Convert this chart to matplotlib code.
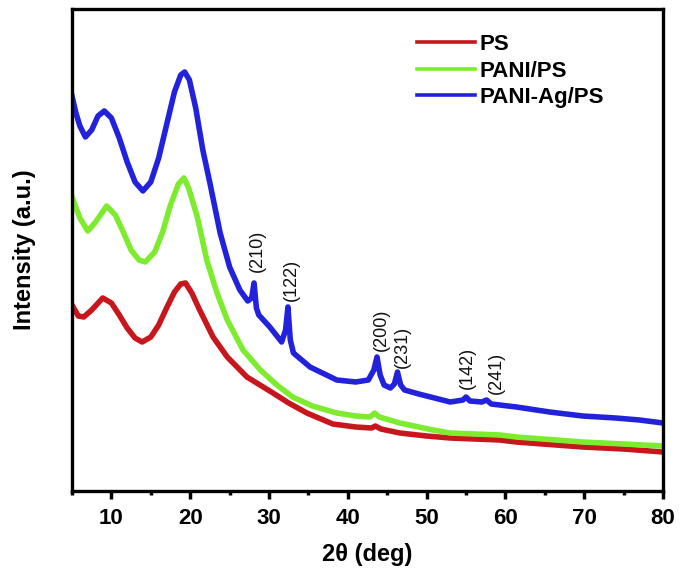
import numpy as np
import matplotlib
matplotlib.use("Agg")
from matplotlib import pyplot as plt
from matplotlib.ticker import MultipleLocator

plt.rcParams['font.family'] = ['Liberation Sans', 'DejaVu Sans']

# ---- data (2theta in deg, intensity in a.u.) ----
ps_2t = [5.0, 5.8, 6.5, 7.5, 8.9, 10.0, 11.0, 12.0, 13.0, 13.9, 15.0, 16.0, 17.0, 18.0,
         18.8, 19.4, 20.2, 21.2, 22.9, 24.7, 27.2, 30.5, 32.5, 34.8, 38.1, 41.0, 43.0,
         43.5, 44.2, 46.6, 50.0, 53.0, 59.3, 61.4, 69.8, 75.0, 80.0]
ps_int = [186, 175, 174, 181, 193, 188, 176, 163, 153, 149, 154, 166, 183, 199,
          207, 208, 198, 181, 154, 134, 114, 98, 88, 78, 67, 64, 63,
          65, 62, 58, 55, 53, 51, 49, 44, 42, 39]

pani_2t = [5.0, 6.0, 7.0, 8.0, 9.4, 10.5, 11.5, 12.5, 13.5, 14.3, 15.5, 16.5, 17.5, 18.5,
           19.2, 19.8, 20.9, 22.1, 23.4, 24.7, 26.7, 28.9, 31.0, 33.0, 35.5, 38.6, 41.0,
           42.8, 43.4, 44.0, 46.6, 50.8, 53.0, 59.3, 61.4, 69.8, 75.0, 80.0]
pani_int = [294, 273, 260, 269, 285, 276, 259, 241, 231, 229, 239, 259, 286, 307,
            313, 303, 274, 231, 198, 171, 141, 121, 106, 94, 85, 78, 75,
            74, 78, 74, 68, 61, 58, 56, 54, 49, 47, 45]

ag_2t = [5.0, 5.5, 6.0, 6.7, 7.5, 8.3, 9.1, 10.0, 11.0, 12.0, 13.0, 14.0, 15.0, 16.0,
         17.0, 18.0, 18.8, 19.3, 19.9, 20.7, 21.6, 22.5, 23.8, 25.0, 26.3, 27.3, 27.8,
         28.1, 28.4, 28.7, 30.1, 31.6, 32.1, 32.4, 32.7, 33.1, 35.2, 38.6, 41.0, 42.6,
         43.3, 43.7, 44.1, 44.6, 45.4, 45.9, 46.3, 46.7, 47.2, 49.0, 51.0, 53.0, 54.6,
         55.0, 55.5, 57.0, 57.6, 58.2, 61.4, 65.6, 69.8, 74.0, 77.0, 80.0]
ag_int = [395, 378, 365, 354, 361, 375, 380, 373, 353, 329, 309, 300, 309, 333,
          366, 399, 416, 419, 411, 383, 341, 308, 258, 224, 201, 190, 193,
          208, 183, 176, 164, 149, 161, 184, 151, 138, 124, 111, 109, 111,
          121, 134, 116, 106, 103, 107, 119, 106, 101, 97, 93, 89, 91,
          94, 90, 89, 91, 87, 84, 79, 75, 73, 71, 68]

# peak labels (hkl) with their text centres
hkl = ['(210)', '(122)', '(200)', '(231)', '(142)', '(241)']
hkl_2t = [28.5, 32.9, 44.2, 46.9, 55.2, 58.8]
hkl_int = [240, 211, 161, 144, 123, 118]

fig = plt.figure(figsize=(6.81, 5.78), dpi=100)
ax = fig.add_axes([0.1057, 0.1505, 0.868, 0.834])

ax.plot(ps_2t, ps_int, color='#C8161D', lw=4, label='PS', solid_joinstyle='round')
ax.plot(pani_2t, pani_int, color='#7DEB2E', lw=4, label='PANI/PS', solid_joinstyle='round')
ax.plot(ag_2t, ag_int, color='#2222DD', lw=4, label='PANI-Ag/PS', solid_joinstyle='round')

for t, x, y in zip(hkl, hkl_2t, hkl_int):
    ax.text(x, y, t, rotation=90, ha='center', va='center', fontsize=13,
            fontweight='medium', color='#111111')

ax.set_xlim(5, 80)
ax.set_ylim(0, 482)
ax.set_yticks([])
ax.xaxis.set_major_locator(MultipleLocator(10))
ax.xaxis.set_minor_locator(MultipleLocator(5))
ax.tick_params(axis='x', which='major', direction='out', length=6, width=2.5,
               labelsize=16, pad=6)
ax.tick_params(axis='x', which='minor', direction='out', length=3, width=2.5)
for lab in ax.get_xticklabels():
    lab.set_fontweight('bold')
for sp in ax.spines.values():
    sp.set_linewidth(2.4)

ax.set_xlabel('2θ (deg)', fontsize=17, fontweight='bold', labelpad=10)
ax.set_ylabel('Intensity (a.u.)', fontsize=17, fontweight='bold', labelpad=26)

leg = ax.legend(loc='upper left', bbox_to_anchor=(0.584, 0.948), frameon=False,
                borderaxespad=0, borderpad=0, handlelength=2.6, handletextpad=0.2,
                labelspacing=0.25, prop={'size': 16, 'weight': 'bold'})
for line in leg.get_lines():
    line.set_linewidth(2.6)

plt.savefig('out.png', dpi=100)
